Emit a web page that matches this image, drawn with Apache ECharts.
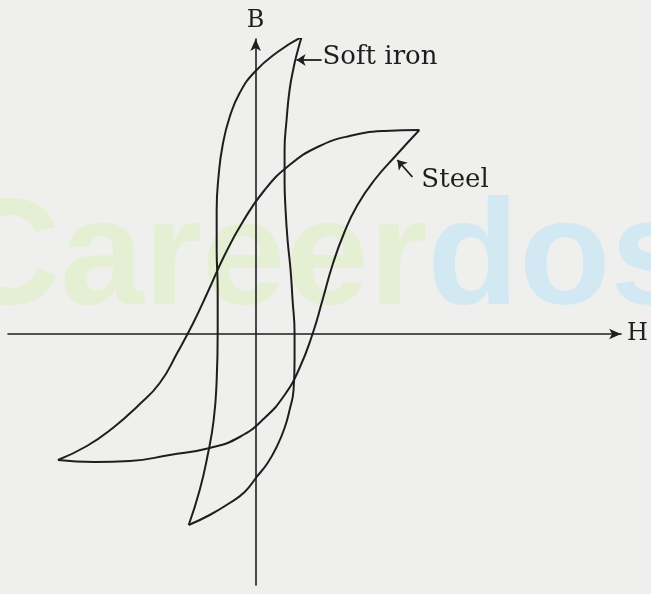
<!DOCTYPE html>
<html>
<head>
<meta charset="utf-8">
<script src="https://cdn.jsdelivr.net/npm/echarts@6/dist/echarts.min.js"></script>
<style>
  html, body { margin: 0; padding: 0; background: #efefed; }
  #main { width: 651px; height: 594px; }
</style>
</head>
<body>
<div id="main"></div>
<script>
// loop branches, [H, B] (origin where the axes cross)
var softIronDown = [[46, 297], [22, 282], [-1, 262], [-16, 241], [-26, 217], [-33, 189], [-37, 159],
  [-39, 124], [-39, 84], [-38, 44], [-38, 1], [-39, -46], [-42, -86], [-48, -121], [-56, -156], [-67, -191]];
var softIronUp = [[-67, -191], [-46, -181], [-26, -169], [-11, -158], [1, -143], [12, -129], [21, -113],
  [29, -94], [34, -76], [38, -56], [39, -26], [39, 1], [37, 34], [35, 64], [32, 94], [30, 124],
  [29, 154], [29, 184], [31, 214], [34, 244], [38, 266], [41, 279], [46, 297]];
var steelDown = [[164, 204], [129, 203], [94, 198], [62, 187], [34, 169], [9, 144], [-13, 112],
  [-31, 79], [-47, 44], [-62, 12], [-78, -18], [-96, -49], [-118, -72], [-143, -94], [-169, -112], [-198, -126]];
var steelUp = [[-198, -126], [-161, -128], [-126, -127], [-86, -121], [-46, -114], [-16, -103], [9, -84],
  [29, -61], [44, -34], [57, 0], [67, 34], [77, 69], [89, 102], [102, 129], [119, 154], [141, 179], [164, 204]];

// pointer arrows (tail -> head) and their labels
var arrowLines = [
  [[66, 274], [41, 274]],
  [[157, 157], [142, 174]]
];
var labelNames = ["Soft iron", "Steel"];
var labelPoints = [[67, 277], [166, 154]];

var ink = "#1e1e1e";
var serif = "'DejaVu Serif', 'Liberation Serif', serif";
var wmFont = "bold 150px 'Liberation Sans', Arial, sans-serif";

function curve(data) {
  return {
    type: "line",
    data: data,
    smooth: 0.5,
    showSymbol: false,
    silent: true,
    z: 3,
    lineStyle: { color: ink, width: 2 },
  };
}

var myChart = echarts.init(document.getElementById("main"));
var option = {
  animation: false,
  backgroundColor: "#efefed",
  grid: { left: 8, right: 29, top: 39, bottom: 9 },
  graphic: [
    {
      type: "text",
      z: -10,
      x: -48,
      y: 188,
      style: {
        text: "{g|Career}{b|dost}",
        font: wmFont,
        verticalAlign: "top",
        rich: {
          g: { fill: "#e4efd4", font: wmFont },
          b: { fill: "#d2e8f3", font: wmFont },
        },
      },
    },
  ],
  xAxis: {
    type: "value",
    min: -248,
    max: 366,
    name: "H",
    nameLocation: "end",
    nameGap: 6,
    nameTextStyle: { fontFamily: serif, fontSize: 24, color: ink },
    axisLine: {
      onZero: true,
      symbol: ["none", "arrow"],
      symbolSize: [8, 12],
      lineStyle: { color: ink, width: 1.6 },
    },
    axisTick: { show: false },
    axisLabel: { show: false },
    splitLine: { show: false },
  },
  yAxis: {
    type: "value",
    min: -251,
    max: 295,
    name: "B",
    nameLocation: "end",
    nameGap: 6,
    nameTextStyle: { fontFamily: serif, fontSize: 24, color: ink },
    axisLine: {
      onZero: true,
      symbol: ["none", "arrow"],
      symbolSize: [8, 12],
      lineStyle: { color: ink, width: 1.6 },
    },
    axisTick: { show: false },
    axisLabel: { show: false },
    splitLine: { show: false },
  },
  series: [
    curve(softIronDown),
    curve(softIronUp),
    curve(steelDown),
    curve(steelUp),
    {
      type: "lines",
      coordinateSystem: "cartesian2d",
      silent: true,
      z: 4,
      symbol: ["none", "arrow"],
      symbolSize: 9,
      lineStyle: { color: ink, width: 1.8, opacity: 1 },
      data: arrowLines.map(function (c) { return { coords: c }; }),
    },
    {
      type: "scatter",
      silent: true,
      symbolSize: 0,
      z: 4,
      itemStyle: { opacity: 1 },
      label: {
        show: true,
        position: "right",
        distance: 0,
        fontFamily: serif,
        fontSize: 26,
        color: ink,
        formatter: function (p) { return labelNames[p.dataIndex]; },
      },
      data: labelPoints,
    },
  ],
};

myChart.setOption(option);
</script>
</body>
</html>
